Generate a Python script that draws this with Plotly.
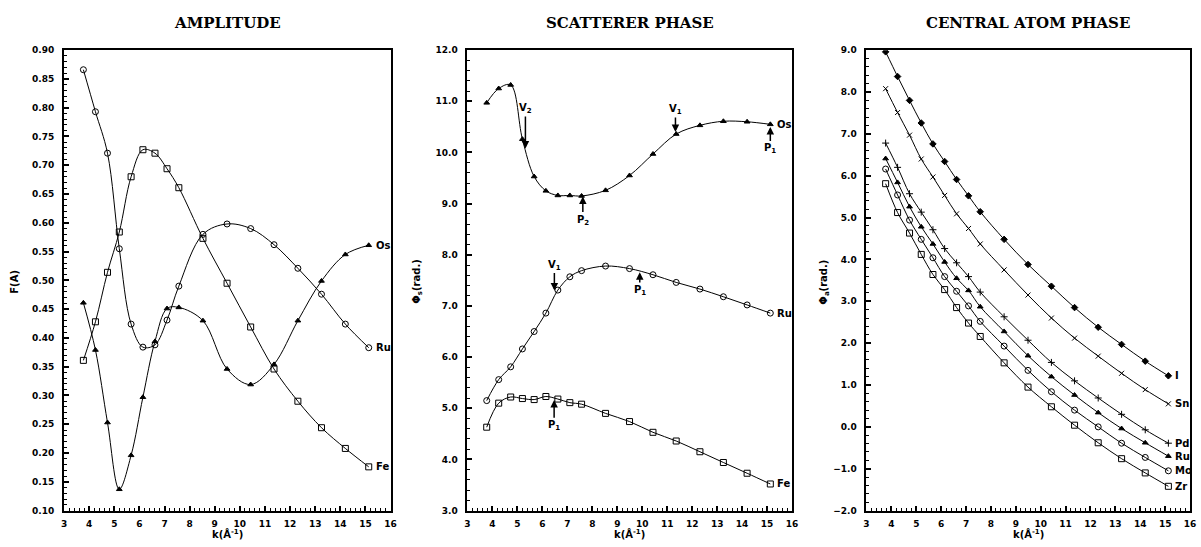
import plotly.graph_objects as go

# ---------------- data ----------------
K = [3.77, 4.25, 4.73, 5.20, 5.67, 6.14, 6.62, 7.10, 7.57, 8.53, 9.49, 10.43, 11.36, 12.31, 13.25, 14.20, 15.13]

# Amplitude F(A)
amp_os = [0.461, 0.379, 0.253, 0.137, 0.196, 0.297, 0.394, 0.451, 0.453, 0.430, 0.346, 0.319, 0.354, 0.430, 0.499, 0.545, 0.561]
amp_ru = [0.866, 0.793, 0.721, 0.555, 0.424, 0.384, 0.388, 0.431, 0.490, 0.580, 0.598, 0.590, 0.562, 0.521, 0.476, 0.424, 0.383]
amp_fe = [0.361, 0.428, 0.514, 0.584, 0.680, 0.727, 0.721, 0.694, 0.661, 0.573, 0.495, 0.419, 0.346, 0.290, 0.244, 0.208, 0.176]

# Scatterer phase
sc_os = [10.97, 11.25, 11.32, 10.26, 9.53, 9.25, 9.16, 9.16, 9.15, 9.26, 9.55, 9.97, 10.36, 10.53, 10.61, 10.60, 10.55]
sc_ru = [5.15, 5.56, 5.81, 6.16, 6.50, 6.86, 7.31, 7.57, 7.69, 7.78, 7.73, 7.61, 7.46, 7.33, 7.18, 7.02, 6.86]
sc_fe = [4.63, 5.10, 5.22, 5.19, 5.17, 5.23, 5.18, 5.11, 5.08, 4.90, 4.74, 4.53, 4.36, 4.15, 3.94, 3.73, 3.52]

# Central atom phase
ca_i = [8.96, 8.37, 7.80, 7.26, 6.76, 6.34, 5.91, 5.52, 5.14, 4.48, 3.88, 3.36, 2.85, 2.38, 1.97, 1.57, 1.22]
ca_sn = [8.08, 7.51, 6.97, 6.40, 5.97, 5.53, 5.09, 4.74, 4.37, 3.75, 3.15, 2.60, 2.12, 1.69, 1.28, 0.89, 0.55]
ca_pd = [6.78, 6.20, 5.57, 5.13, 4.71, 4.26, 3.92, 3.59, 3.22, 2.63, 2.07, 1.54, 1.10, 0.69, 0.30, -0.07, -0.39]
ca_ru = [6.41, 5.84, 5.26, 4.78, 4.37, 3.94, 3.55, 3.26, 2.87, 2.28, 1.70, 1.20, 0.76, 0.34, -0.04, -0.38, -0.70]
ca_mo = [6.16, 5.54, 4.94, 4.48, 4.04, 3.59, 3.24, 2.89, 2.52, 1.93, 1.35, 0.84, 0.40, 0.00, -0.39, -0.73, -1.05]
ca_zr = [5.81, 5.12, 4.63, 4.12, 3.64, 3.28, 2.85, 2.48, 2.16, 1.53, 0.95, 0.48, 0.04, -0.38, -0.76, -1.10, -1.42]

panel_titles = ["AMPLITUDE", "SCATTERER PHASE", "CENTRAL ATOM PHASE"]

# arrows in scatterer phase panel: (label, k, head_y, label_y)
arrows = [
    ("V<sub>2</sub>", 5.32, 10.08, 10.86),
    ("V<sub>1</sub>", 11.33, 10.40, 10.84),
    ("P<sub>2</sub>", 7.62, 9.14, 8.68),
    ("P<sub>1</sub>", 15.13, 10.50, 10.07),
    ("V<sub>1</sub>", 6.48, 7.30, 7.80),
    ("P<sub>1</sub>", 9.90, 7.66, 7.30),
    ("P<sub>1</sub>", 6.47, 5.16, 4.66),
]

# ---------------- figure ----------------
W, H = 1201, 547
fig = go.Figure()

BLACK = "black"
line = dict(color=BLACK, width=1, shape="spline", smoothing=1.0)


def add(x, y, symbol, ax, size=6):
    fig.add_trace(go.Scatter(
        x=x, y=y, mode="lines+markers", line=line,
        marker=dict(symbol=symbol, size=size, color=BLACK,
                    line=dict(color=BLACK, width=1)),
        xaxis=ax[0], yaxis=ax[1], showlegend=False, hoverinfo="skip"))


A1 = ("x", "y")
A2 = ("x2", "y2")
A3 = ("x3", "y3")

add(K, amp_os, "triangle-up", A1, 5)
add(K, amp_ru, "circle-open", A1)
add(K, amp_fe, "square-open", A1)

add(K, sc_os, "triangle-up", A2, 5)
add(K, sc_ru, "circle-open", A2)
add(K, sc_fe, "square-open", A2)

add(K, ca_i, "diamond", A3, 5)
add(K, ca_sn, "x-thin-open", A3, 5)
add(K, ca_pd, "cross-thin-open", A3, 5)
add(K, ca_ru, "triangle-up", A3, 5)
add(K, ca_mo, "circle-open", A3)
add(K, ca_zr, "square-open", A3)

# ---------------- axes ----------------
px_x = [(61.5, 390.5), (468, 795), (870, 1196)]
y_top, y_bot = 46, 515
ydom = [1 - y_bot / H, 1 - y_top / H]

tickfont = dict(family="DejaVu Sans", size=9, color=BLACK, weight="bold")

def xaxis(i):
    return dict(domain=[px_x[i][0] / W, px_x[i][1] / W], range=[3, 16], dtick=1,
                tick0=3, showgrid=False, zeroline=False, showline=True,
                linecolor=BLACK, linewidth=2, mirror=True, ticks="inside",
                ticklen=5, tickwidth=1.5, tickcolor=BLACK, tickfont=tickfont,
                ticklabelstandoff=4,
                minor=dict(dtick=0.2, ticks="inside", ticklen=3, tickcolor=BLACK, tickwidth=1),
                anchor=["y", "y2", "y3"][i])

def yaxis(i, rng, dtick, fmt, minor):
    return dict(domain=ydom, range=rng, dtick=dtick, tick0=rng[0], tickformat=fmt,
                showgrid=False, zeroline=False, showline=True, linecolor=BLACK,
                linewidth=2, mirror=True, ticks="inside", ticklen=5, tickwidth=1.5,
                tickcolor=BLACK, tickfont=tickfont, ticklabelstandoff=6,
                minor=dict(dtick=minor, ticks="inside", ticklen=3, tickcolor=BLACK, tickwidth=1),
                anchor=["x", "x2", "x3"][i])

fig.update_layout(
    width=W, height=H, margin=dict(l=0, r=0, t=0, b=0),
    paper_bgcolor="white", plot_bgcolor="white",
    xaxis=xaxis(0), xaxis2=xaxis(1), xaxis3=xaxis(2),
    yaxis=yaxis(0, [0.10, 0.90], 0.05, ".2f", 0.01),
    yaxis2=yaxis(1, [3.0, 12.0], 1.0, ".1f", 0.2),
    yaxis3=yaxis(2, [-2.0, 9.0], 1.0, ".1f", 0.2),
)

ann = []
title_font = dict(family="DejaVu Serif", size=15, color=BLACK, weight="bold")
for i, t in enumerate(panel_titles):
    cx = (px_x[i][0] + px_x[i][1]) / 2 / W
    ann.append(dict(text=t, x=cx, y=1 - 18 / H, xref="paper", yref="paper",
                    showarrow=False, font=title_font, xanchor="center", yanchor="middle"))
    ann.append(dict(text="k(Å<sup>-1</sup>)", x=cx, y=1 - 539 / H, xref="paper", yref="paper",
                    showarrow=False, font=dict(family="DejaVu Sans", size=10, color=BLACK, weight="bold"),
                    xanchor="center", yanchor="middle"))

ylabels = [("F(A)", 12), ("Φ<sub>s</sub>(rad.)", 418), ("Φ<sub>a</sub>(rad.)", 828)]
for t, xp in ylabels:
    ann.append(dict(text=t, x=xp / W, y=1 - 282 / H, xref="paper", yref="paper",
                    showarrow=False, textangle=-90,
                    font=dict(family="DejaVu Sans", size=10, color=BLACK, weight="bold"),
                    xanchor="center", yanchor="middle"))

# end labels
lab_font = dict(family="DejaVu Sans", size=10, color=BLACK, weight="bold")
ends = [
    ("Os", amp_os, "x", "y"), ("Ru", amp_ru, "x", "y"), ("Fe", amp_fe, "x", "y"),
    ("Os", sc_os, "x2", "y2"), ("Ru", sc_ru, "x2", "y2"), ("Fe", sc_fe, "x2", "y2"),
    ("I", ca_i, "x3", "y3"), ("Sn", ca_sn, "x3", "y3"), ("Pd", ca_pd, "x3", "y3"),
    ("Ru", ca_ru, "x3", "y3"), ("Mo", ca_mo, "x3", "y3"), ("Zr", ca_zr, "x3", "y3"),
]
for t, ys, xr, yr in ends:
    ann.append(dict(text=t, x=K[-1], y=ys[-1], xref=xr, yref=yr, showarrow=False,
                    xanchor="left", xshift=5, font=lab_font))

# arrows: label at tail, arrow drawn from label box to the curve
for t, kx, hy, ly in arrows:
    ann.append(dict(text=t, x=kx, y=hy, ax=kx, ay=ly, xref="x2", yref="y2",
                    axref="x2", ayref="y2", showarrow=True, arrowhead=2,
                    arrowsize=1, arrowwidth=1.5, arrowcolor=BLACK, standoff=0,
                    font=dict(family="DejaVu Sans", size=10, color=BLACK, weight="bold")))

fig.update_layout(annotations=ann)
fig.write_html("out.html")
